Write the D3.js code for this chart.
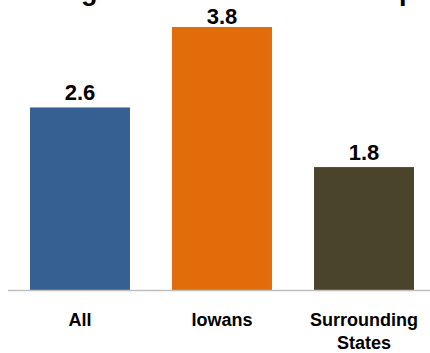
<!DOCTYPE html>
<html>
  <head>
    <meta charset="utf-8">
    <title>trips</title>
    <style>
      body { margin: 0; background: #fff; }
      text { font-family: Arial, "Liberation Sans", sans-serif; font-weight: bold; fill: #000; }
    </style>
  </head>
  <body>
    <div id="container"></div>
    <script src="https://cdn.jsdelivr.net/npm/d3@7"></script>
    <script>
      // data
      var categories = ["All", "Iowans", "Surrounding States"];
      var values = [2.64, 3.8, 1.78];
      var barColors = ["#376092", "#e36c0a", "#4a452a"];
      var title = "Average Number of Leisure Trips";

      var width = 430, height = 353;
      var baseY = 290.5;

      var svg = d3.select("#container").append("svg")
        .attr("width", width)
        .attr("height", height);

      var x = d3.scaleBand()
        .domain(categories)
        .range([8, 436])
        .paddingInner(0.296)
        .paddingOuter(0.155);

      var y = d3.scaleLinear()
        .domain([0, 3.8])
        .range([baseY, 27]);

      // title, mostly cut off by the top edge
      svg.append("text")
        .attr("x", 7)
        .attr("y", -0.5)
        .attr("font-size", 27)
        .text(title);

      svg.selectAll("rect.bar")
        .data(values)
        .enter().append("rect")
          .attr("class", "bar")
          .attr("x", function(d, i) { return x(categories[i]); })
          .attr("y", function(d) { return y(d); })
          .attr("width", x.bandwidth())
          .attr("height", function(d) { return baseY - y(d); })
          .attr("fill", function(d, i) { return barColors[i]; });

      svg.selectAll("text.val")
        .data(values)
        .enter().append("text")
          .attr("class", "val")
          .attr("x", function(d, i) { return x(categories[i]) + x.bandwidth() / 2; })
          .attr("y", function(d) { return Math.max(y(d) - 7, 24); })
          .attr("text-anchor", "middle")
          .attr("font-size", 22)
          .text(function(d) { return d3.format(".1f")(d); });

      // category axis
      var axis = svg.append("g")
        .attr("transform", "translate(0," + baseY + ")")
        .call(d3.axisBottom(x).tickSize(0).tickFormat(""));
      axis.select(".domain").remove();
      axis.append("line")
        .attr("x1", 8).attr("x2", width)
        .attr("stroke", "#bfbfbf")
        .attr("stroke-width", 1.5);

      categories.forEach(function(c) {
        var words = c.split(" ");
        var lines = words.length > 1 ? [words[0], words.slice(1).join(" ")] : [c];
        var t = svg.append("text")
          .attr("text-anchor", "middle")
          .attr("font-size", 18)
          .attr("y", 326);
        lines.forEach(function(l, k) {
          t.append("tspan")
            .attr("x", x(c) + x.bandwidth() / 2)
            .attr("dy", k == 0 ? 0 : 23)
            .text(l);
        });
      });
    </script>
  </body>
</html>
